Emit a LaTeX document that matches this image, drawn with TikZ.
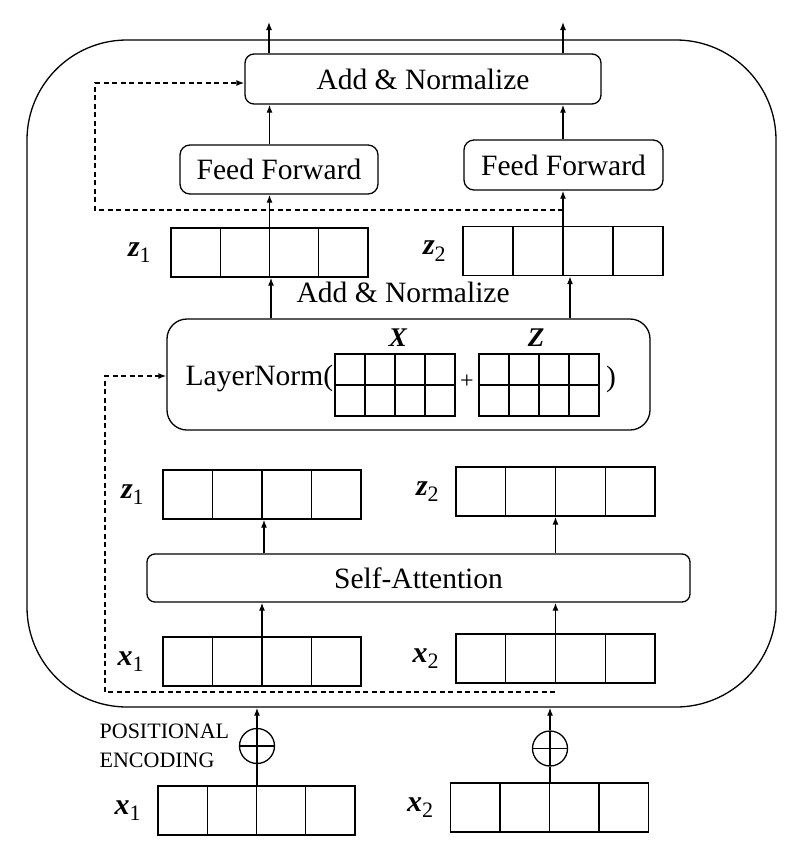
\documentclass[tikz,border=0pt]{standalone}
\usepackage{fontspec}
\setmainfont{Liberation Serif}
\usetikzlibrary{positioning,calc,arrows.meta}

\newcommand{\vlab}[2]{{\bfseries\itshape #1}\raisebox{-0.22em}{\fontsize{22}{22}\selectfont #2}}

\begin{document}
\begin{tikzpicture}[
            x=1pt, y=-1pt,
            every path/.style={line width=1.3pt},
            txt/.style={font=\fontsize{29.5}{34}\selectfont},
            block/.style={draw, rounded corners=9pt, inner sep=0pt, txt},
            vec/.style={draw, inner sep=0pt, minimum width=197pt, minimum height=49pt,
              path picture={\foreach \k in {1,2,3}
                \draw[line width=1.3pt] ($(path picture bounding box.south west)!\k/4!(path picture bounding box.south east)$)
                   -- ($(path picture bounding box.north west)!\k/4!(path picture bounding box.north east)$);}},
            mat/.style={draw, inner sep=0pt, minimum width=120pt, minimum height=62pt,
              path picture={\foreach \k in {1,2,3}
                \draw[line width=1.3pt] ($(path picture bounding box.south west)!\k/4!(path picture bounding box.south east)$)
                   -- ($(path picture bounding box.north west)!\k/4!(path picture bounding box.north east)$);
                \draw[line width=1.3pt] (path picture bounding box.west) -- (path picture bounding box.east);}},
            lbl/.style={inner sep=0pt, font=\fontsize{30}{30}\selectfont},
            plus/.style={circle, draw, minimum size=35pt, inner sep=0pt,
              path picture={\draw[line width=1.3pt] (path picture bounding box.west) -- (path picture bounding box.east);
                \draw[line width=1.3pt] (path picture bounding box.north) -- (path picture bounding box.south);}},
            arr/.style={-{Latex[length=8pt,width=6pt]}},
            resid/.style={dash pattern=on 5pt off 3.5pt, -{Latex[length=8pt,width=6pt]}},
            ]
            \useasboundingbox (0,0) rectangle (792,847);

            % encoder layer
            \node[draw, rounded corners=100pt, minimum width=749pt, minimum height=667pt] (enc) at (401.5,373.5) {};

            % top part
            \node[block, minimum width=356pt, minimum height=50pt] (addnorm) at (423,79) {Add \& Normalize};
            \node[block, rounded corners=10pt, minimum width=198pt, minimum height=49pt] (ff1) at (279,169.5) {Feed Forward};
            \node[block, rounded corners=10pt, minimum width=199pt, minimum height=50pt] (ff2) at (563.5,165) {Feed Forward};
            \node[vec] (z1t) at (269.5,252.5) {};
            \node[vec, minimum width=200pt] (z2t) at (563,251) {};
            \node[lbl, left=19pt of z1t] {\vlab{z}{1}};
            \node[lbl, left=16pt of z2t] {\vlab{z}{2}};
            \node[txt, anchor=base west, inner sep=0pt] (addlbl) at (296,302) {Add \& Normalize};

            % layer norm
            \node[draw, rounded corners=20pt, minimum width=483pt, minimum height=111pt] (lnorm) at (408.5,374.5) {};
            \node[txt, anchor=base west, inner sep=0pt] (lntext) at (185,385) {LayerNorm(};
            \node[mat] (matX) at (395,385) {};
            \node[mat] (matZ) at (539,385) {};
            \node[lbl, font=\fontsize{27}{27}\selectfont, above=6pt of matX, xshift=3pt] {\bfseries\itshape X};
            \node[lbl, font=\fontsize{27}{27}\selectfont, above=6pt of matZ, xshift=-3pt] {\bfseries\itshape Z};
            \node[font=\fontsize{24}{24}\selectfont, inner sep=0pt] (plus) at (467,382) {+};
            \node[txt, inner sep=0pt] (rpar) at (611,379) {)};

            % self-attention
            \node[vec, minimum width=198pt] (z1l) at (262,494.5) {};
            \node[vec, minimum width=199pt] (z2l) at (555.5,491.5) {};
            \node[lbl, left=18pt of z1l] {\vlab{z}{1}};
            \node[lbl, left=16pt of z2l] {\vlab{z}{2}};
            \node[block, rounded corners=8pt, minimum width=543pt, minimum height=48pt] (sa) at (418.5,578) {Self-Attention};
            \node[vec, minimum width=198pt] (x1i) at (262,661.5) {};
            \node[vec, minimum width=199pt] (x2i) at (555.5,658.5) {};
            \node[lbl, left=18pt of x1i] {\vlab{x}{1}};
            \node[lbl, left=16pt of x2i] {\vlab{x}{2}};

            % inputs
            \node[vec] (x1b) at (256.5,810.5) {};
            \node[vec, minimum width=198pt] (x2b) at (549.5,807.5) {};
            \node[lbl, left=16pt of x1b] {\vlab{x}{1}};
            \node[lbl, left=16pt of x2b] {\vlab{x}{2}};
            \node[plus] (pe1) at (257,746) {};
            \node[plus] (pe2) at (550,748.5) {};
            \node[inner sep=0pt, left=9pt of pe1, align=left, font=\fontsize{22}{29}\selectfont] (pelbl) {POSITIONAL\\ENCODING};

            % outputs
            \coordinate (out1) at (269,22);
            \coordinate (out2) at (563,22);
            \coordinate (tap1) at (563,210);
            \coordinate (bend1) at (95,83);
            \coordinate (tap2) at (555,692);
            \coordinate (bend2) at (105,376);

            \draw[arr] (out1 |- addnorm.north) -- (out1);
            \draw[arr] (out2 |- addnorm.north) -- (out2);
            \draw[arr] (ff1.north -| z1t.north) -- (addnorm.south -| z1t.north);
            \draw[arr] (ff2.north -| z2t.north) -- (addnorm.south -| z2t.north);
            \draw[arr] (z1t.north) -- (z1t.north |- ff1.south);
            \draw[arr] (z2t.north) -- (z2t.north |- ff2.south);
            \draw[arr] ([xshift=1.5pt]z1t.south |- lnorm.north) -- ([xshift=1.5pt]z1t.south);
            \draw[arr] ([xshift=7pt]z2t.south |- lnorm.north) -- ([xshift=7pt]z2t.south);
            \draw[arr] ([xshift=2pt]z1l.south |- sa.north) -- ([xshift=2pt]z1l.south);
            \draw[arr] (z2l.south |- sa.north) -- (z2l.south);
            \draw[arr] (x1i.north) -- (x1i.north |- sa.south);
            \draw[arr] (x2i.north) -- (x2i.north |- sa.south);
            \draw (x1b.north -| pe1) -- (pe1.south);
            \draw (x2b.north -| pe2) -- (pe2.south);
            \draw[arr] (pe1.north) -- (pe1 |- enc.south);
            \draw[arr] (pe2.north) -- (pe2 |- enc.south);

            % residual connections
            \draw[resid] (tap1) -| (bend1) -- (bend1 -| addnorm.west);
            \draw[resid] (tap2) -| (bend2) -- (bend2 -| lnorm.west);
        \end{tikzpicture}
\end{document}
